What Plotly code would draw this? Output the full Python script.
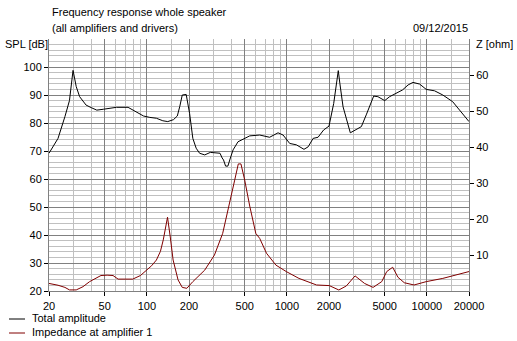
import plotly.graph_objects as go

# Total SPL of the whole speaker (Hz, dB)
spl_freq = [20, 23.2, 26, 28, 29.7, 31.3, 33.1, 36.8, 40, 43.9, 48.8, 55, 60.6, 73.4, 84.3,
            94.7, 105, 117, 130, 141, 155, 165, 172, 179, 191, 202, 213, 225, 238, 259, 284,
            333, 345, 353, 365, 379, 395, 413, 448, 512, 543, 640, 753, 865, 940, 1048, 1170,
            1325, 1420, 1540, 1670, 1830, 2000, 2161, 2280, 2330, 2390, 2520, 2840, 3100, 3405,
            3690, 4170, 4470, 5000, 5420, 6050, 6700, 7350, 7960, 8880, 9900, 11350, 13000,
            15300, 17500, 20000]
spl_db = [69.2, 74.5, 82.3, 88.0, 98.8, 93.0, 89.4, 86.4, 85.5, 84.6, 84.9, 85.2, 85.6, 85.6, 84.0,
          82.5, 82.0, 81.7, 80.8, 80.5, 81.2, 82.5, 86.0, 90.0, 90.2, 83.4, 74.5, 71.0, 69.2, 68.6, 69.5,
          69.2, 67.5, 66.8, 64.6, 64.6, 67.5, 70.4, 73.3, 74.8, 75.4, 75.7, 74.9, 76.5, 75.7, 72.7, 72.2,
          70.6, 71.5, 74.5, 74.9, 77.5, 78.9, 87.0, 94.2, 98.7, 94.2, 85.8, 76.5, 77.5, 78.7,
          82.9, 89.6, 89.4, 88.0, 89.4, 90.6, 91.8, 93.6, 94.5, 93.9, 92.0, 91.5, 90.0,
          87.6, 84.0, 80.5]

# Impedance seen by amplifier 1 (Hz, ohm)
imp_freq = [20, 23.2, 26, 28, 31.3, 35, 39, 43, 47, 52, 57.3, 62.3, 70, 79.3, 90, 99, 108, 117,
            125, 131, 140.5, 147, 154, 167, 179, 193, 213, 259, 304, 348, 391, 424, 450, 470,
            500, 543, 600, 640, 715, 835, 990, 1220, 1630, 2010, 2350, 2660, 3070, 3590, 4130,
            4760, 5170, 5700, 6220, 6900, 8100, 9900, 13000, 16300, 20000]
imp_ohm = [2.1, 1.6, 1.0, 0.3, 0.3, 1.2, 2.6, 3.5, 4.3, 4.4, 4.3, 3.3, 3.2, 3.3, 4.3, 5.8, 7.0, 8.6,
           11.0, 14.2, 20.5, 15.0, 8.6, 3.1, 1.0, 0.75, 2.6, 5.8, 10.0, 16.0, 25.3, 30.8, 35.3, 35.3,
           30.8, 23.6, 16.0, 14.6, 10.5, 7.2, 5.4, 3.5, 1.67, 1.5, 0.28, 1.4, 4.2, 2.1, 1.0,
           2.6, 5.4, 6.6, 3.8, 2.3, 1.67, 2.6, 3.5, 4.4, 5.4]

freq_ticks = [20, 50, 100, 200, 500, 1000, 2000, 5000, 10000, 20000]
freq_minor = [30, 40, 60, 70, 80, 90, 150, 300, 400, 600, 700, 800, 900, 1500,
              3000, 4000, 6000, 7000, 8000, 9000, 15000]
spl_ticks = [20, 30, 40, 50, 60, 70, 80, 90, 100]
spl_minor = [v for v in range(22, 111, 2) if v % 10 != 0] + [110]
imp_ticks = [10, 20, 30, 40, 50, 60]

FONT = "Liberation Sans"
DARK = "#808080"
LIGHT = "#c0c0c0"
TOTAL_COLOR = "#000000"
IMP_COLOR = "#800000"

W, H = 517, 341
ML, MR, MT, MB = 49, 48, 39, 50
PW, PH = W - ML - MR, H - MT - MB


def px_to_paper(px, py):
    """Convert figure pixel position to paper coordinates of the plot area."""
    return (px - ML) / PW, (H - MB - py) / PH


fig = go.Figure()
fig.add_trace(go.Scatter(x=spl_freq, y=spl_db, mode="lines", name="Total amplitude",
                         line=dict(color=TOTAL_COLOR, width=1), yaxis="y"))
fig.add_trace(go.Scatter(x=imp_freq, y=imp_ohm, mode="lines", name="Impedance at amplifier 1",
                         line=dict(color=IMP_COLOR, width=1), yaxis="y2"))

fig.update_layout(
    width=W, height=H,
    margin=dict(l=ML, r=MR, t=MT, b=MB),
    paper_bgcolor="white", plot_bgcolor="white",
    showlegend=False,
    font=dict(family=FONT, size=11, color="black"),
    xaxis=dict(
        type="log", range=[1.30103, 4.30103],
        tickmode="array", tickvals=freq_ticks, ticktext=[str(v) for v in freq_ticks],
        ticks="outside", ticklen=4, tickcolor="black",
        showgrid=True, gridcolor=DARK, gridwidth=1,
        minor=dict(tickmode="array", tickvals=freq_minor, showgrid=True, gridcolor=LIGHT,
                   gridwidth=1, ticks=""),
        showline=True, linecolor=DARK, linewidth=1, mirror=False,
        zeroline=False, tickfont=dict(size=11), ticklabelstandoff=1,
    ),
    yaxis=dict(
        range=[20, 110],
        tickmode="array", tickvals=spl_ticks,
        ticks="outside", ticklen=4, tickcolor="black",
        showgrid=True, gridcolor=DARK, gridwidth=1,
        minor=dict(tickmode="array", tickvals=spl_minor, showgrid=True, gridcolor=LIGHT,
                   gridwidth=1, ticks=""),
        showline=True, linecolor=DARK, linewidth=1, mirror=True,
        zeroline=False, tickfont=dict(size=11),
    ),
    yaxis2=dict(
        overlaying="y", side="right", range=[0, 70],
        tickmode="array", tickvals=imp_ticks,
        ticks="outside", ticklen=4, tickcolor="black",
        showgrid=False, zeroline=False, showline=False,
        tickfont=dict(size=11),
    ),
)

# Header and legend texts (figure pixel positions)
texts = [
    (50, 12, "Frequency response whole speaker", "left"),
    (50, 28, "(all amplifiers and drivers)", "left"),
    (470, 28, "09/12/2015", "right"),
    (3, 44, "SPL [dB]", "left"),
    (474, 44, "Z [ohm]", "left"),
    (30, 318, "Total amplitude", "left"),
    (30, 332, "Impedance at amplifier 1", "left"),
]
for px, py, label, anchor in texts:
    ax, ay = px_to_paper(px, py)
    fig.add_annotation(x=ax, y=ay, xref="paper", yref="paper",
                       text=label, showarrow=False, xanchor=anchor, yanchor="middle",
                       font=dict(family=FONT, size=11, color="black"))

# Legend line samples
for py, col in [(319, TOTAL_COLOR), (333, IMP_COLOR)]:
    x0, y0 = px_to_paper(9, py)
    x1, _ = px_to_paper(25, py)
    fig.add_shape(type="line", xref="paper", yref="paper",
                  x0=x0, x1=x1, y0=y0, y1=y0, line=dict(color=col, width=1))

fig.write_html("out.html")
